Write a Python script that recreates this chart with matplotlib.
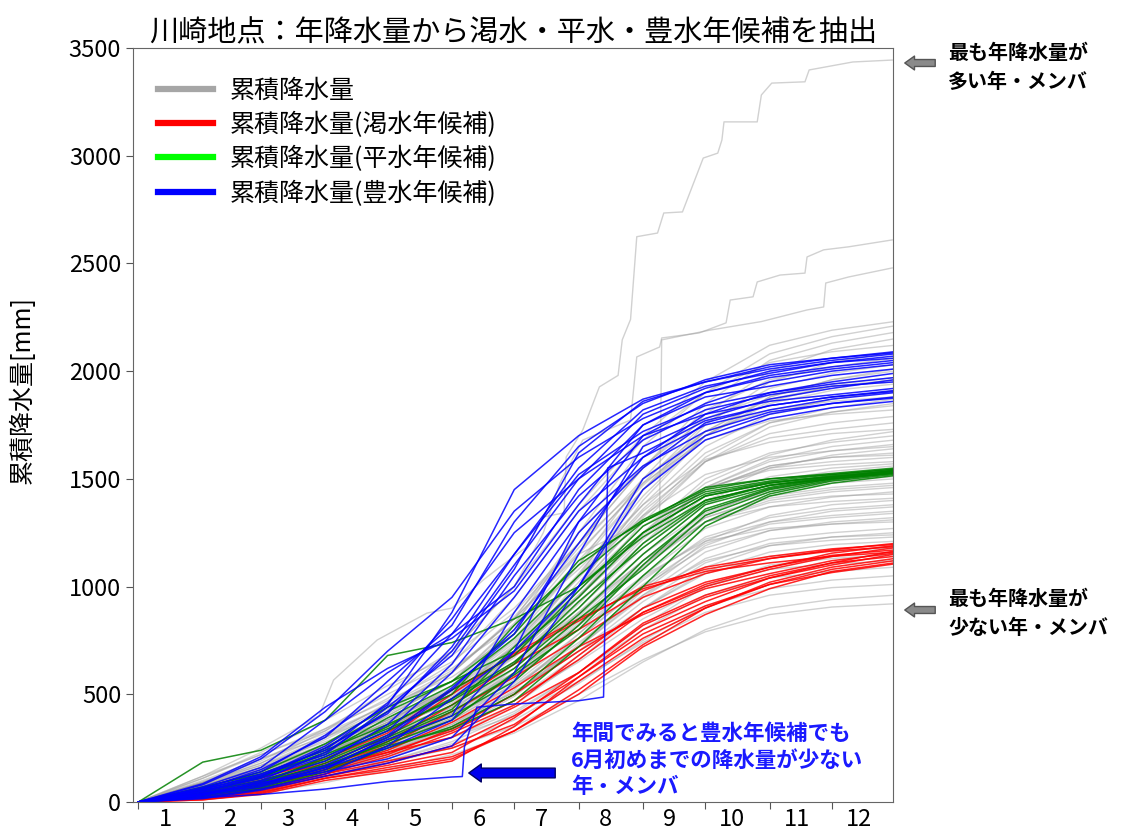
import matplotlib
matplotlib.use("Agg")
import matplotlib.pyplot as plt
from matplotlib.lines import Line2D
import numpy as np

plt.rcParams['font.family'] = ['Noto Sans CJK JP', 'DejaVu Sans']

# day-of-year (0-based) at the start of each month, plus the last day
month_days = [0, 31, 59, 90, 120, 151, 181, 212, 243, 273, 304, 334, 364]
month_labels = [str(m) for m in range(1, 13)]

# cumulative precipitation [mm] at each month boundary
gray_runs = [
    [0, 90, 180, 330, 520, 700, 1000, 1380, 1700, 1950, 2120, 2190, 2230],
    [0, 50, 120, 250, 400, 560, 820, 1250, 1650, 1900, 2080, 2160, 2210],
    [0, 110, 230, 380, 540, 680, 900, 1200, 1550, 1850, 2050, 2130, 2180],
    [0, 60, 140, 260, 380, 520, 760, 1100, 1500, 1800, 2000, 2100, 2150],
    [0, 75, 160, 300, 460, 640, 950, 1350, 1680, 1900, 2040, 2090, 2120],
    [0, 40, 100, 200, 330, 480, 700, 1050, 1450, 1750, 1950, 2040, 2090],
    [0, 95, 190, 340, 500, 650, 880, 1200, 1550, 1820, 1960, 2020, 2060],
    [0, 55, 130, 240, 370, 540, 800, 1150, 1480, 1760, 1920, 1990, 2030],
    [0, 30, 90, 190, 320, 450, 680, 1000, 1400, 1700, 1880, 1960, 2000],
    [0, 70, 150, 290, 430, 600, 850, 1250, 1560, 1780, 1890, 1940, 1970],
    [0, 100, 200, 320, 450, 580, 780, 1100, 1450, 1700, 1850, 1910, 1940],
    [0, 45, 110, 220, 350, 500, 720, 1050, 1380, 1650, 1800, 1870, 1910],
    [0, 65, 140, 270, 410, 560, 830, 1180, 1500, 1720, 1820, 1860, 1880],
    [0, 25, 70, 160, 280, 420, 640, 950, 1300, 1580, 1740, 1810, 1850],
    [0, 85, 170, 300, 440, 600, 860, 1200, 1480, 1680, 1770, 1800, 1820],
    [0, 50, 115, 230, 360, 500, 720, 1000, 1320, 1580, 1710, 1760, 1790],
    [0, 35, 95, 200, 330, 470, 700, 1020, 1350, 1580, 1690, 1730, 1760],
    [0, 120, 220, 340, 470, 620, 820, 1080, 1380, 1590, 1670, 1710, 1730],
    [0, 60, 125, 230, 350, 480, 680, 950, 1250, 1500, 1620, 1670, 1700],
    [0, 20, 60, 140, 260, 400, 620, 900, 1200, 1460, 1590, 1650, 1680],
    [0, 75, 150, 260, 380, 530, 750, 1050, 1330, 1520, 1600, 1630, 1650],
    [0, 40, 100, 190, 300, 440, 650, 920, 1220, 1450, 1560, 1600, 1620],
    [0, 55, 130, 250, 370, 500, 700, 980, 1250, 1450, 1550, 1580, 1600],
    [0, 90, 170, 280, 390, 520, 720, 1000, 1280, 1460, 1540, 1565, 1580],
    [0, 30, 80, 170, 280, 410, 600, 860, 1150, 1380, 1490, 1535, 1560],
    [0, 45, 105, 200, 310, 430, 620, 880, 1150, 1350, 1440, 1480, 1500],
    [0, 65, 130, 230, 340, 460, 640, 870, 1120, 1320, 1410, 1450, 1470],
    [0, 20, 55, 130, 230, 350, 520, 780, 1050, 1270, 1370, 1415, 1440],
    [0, 80, 160, 260, 360, 480, 650, 880, 1120, 1300, 1370, 1395, 1410],
    [0, 35, 85, 170, 270, 380, 550, 780, 1030, 1230, 1320, 1360, 1380],
    [0, 50, 110, 200, 300, 410, 580, 800, 1040, 1220, 1300, 1330, 1350],
    [0, 25, 65, 140, 240, 350, 500, 720, 960, 1160, 1260, 1300, 1320],
    [0, 70, 140, 240, 330, 440, 600, 820, 1050, 1210, 1270, 1290, 1300],
    [0, 40, 90, 170, 260, 360, 510, 720, 950, 1130, 1220, 1250, 1270],
    [0, 15, 45, 110, 200, 300, 450, 660, 900, 1090, 1190, 1230, 1250],
    [0, 55, 120, 210, 300, 400, 540, 740, 960, 1120, 1190, 1215, 1230],
    [0, 30, 75, 150, 240, 330, 470, 680, 900, 1070, 1160, 1195, 1210],
    [0, 60, 115, 190, 270, 370, 510, 700, 900, 1060, 1140, 1165, 1180],
    [0, 20, 50, 110, 190, 280, 410, 600, 820, 1000, 1100, 1130, 1150],
    [0, 45, 100, 170, 250, 340, 470, 650, 850, 1000, 1080, 1105, 1120],
    [0, 35, 80, 140, 210, 300, 420, 600, 800, 960, 1040, 1070, 1090],
    [0, 25, 60, 120, 190, 270, 380, 550, 750, 910, 990, 1030, 1050],
    [0, 40, 85, 150, 220, 300, 400, 560, 740, 880, 960, 995, 1010],
    [0, 15, 40, 90, 150, 220, 320, 470, 650, 800, 900, 940, 960],
    [0, 30, 65, 120, 180, 250, 350, 500, 660, 790, 870, 905, 920],
    [0, 50, 120, 210, 330, 470, 690, 1000, 1330, 1600, 1760, 1830, 1870],
    [0, 80, 150, 250, 350, 470, 650, 900, 1180, 1400, 1510, 1550, 1570],
    [0, 25, 75, 160, 260, 390, 560, 820, 1100, 1320, 1420, 1460, 1480],
    [0, 60, 125, 220, 340, 470, 670, 930, 1200, 1420, 1550, 1610, 1640],
    [0, 40, 95, 180, 290, 410, 590, 840, 1100, 1300, 1390, 1420, 1430],
    [0, 70, 140, 250, 370, 520, 740, 1040, 1360, 1620, 1760, 1810, 1840],
    [0, 30, 70, 150, 250, 360, 530, 760, 1010, 1200, 1290, 1320, 1340],
    [0, 55, 120, 220, 350, 500, 730, 1060, 1420, 1700, 1860, 1930, 1960],
    [0, 45, 100, 180, 270, 380, 540, 760, 1000, 1180, 1260, 1290, 1310],
    [0, 90, 180, 310, 450, 610, 850, 1160, 1470, 1720, 1870, 1930, 1950],
    [0, 20, 60, 130, 220, 330, 490, 720, 980, 1190, 1300, 1350, 1370],
    [0, 65, 135, 240, 360, 490, 690, 960, 1240, 1460, 1580, 1630, 1660],
    [0, 35, 85, 160, 250, 350, 500, 700, 930, 1110, 1200, 1230, 1240],
    [0, 75, 150, 270, 400, 560, 800, 1120, 1450, 1720, 1880, 1960, 2010],
    [0, 50, 110, 200, 300, 420, 600, 850, 1120, 1340, 1450, 1490, 1510],
    [0, 30, 80, 170, 280, 400, 580, 830, 1100, 1330, 1460, 1510, 1540],
    [0, 60, 130, 230, 350, 480, 680, 950, 1230, 1450, 1560, 1600, 1610],
    [0, 40, 90, 170, 270, 390, 570, 820, 1090, 1300, 1400, 1440, 1460],
    [0, 85, 160, 270, 380, 510, 700, 960, 1250, 1480, 1610, 1680, 1720],
    [0, 25, 70, 140, 230, 340, 500, 730, 990, 1210, 1330, 1380, 1400],
]

# the three wettest runs, traced in more detail (day, cumulative mm)
wettest_days = [0, 31, 59, 87, 94, 115, 139, 151, 166, 174, 187, 195, 205, 206, 214,
                222, 231, 233, 237, 240, 250, 253, 262, 272, 279, 281, 282, 298, 300,
                305, 321, 323, 344, 363]
wettest_mm = [0, 120, 250, 400, 566, 752, 877, 900, 1030, 1090, 1184, 1323, 1342, 1601,
              1727, 1927, 1980, 2145, 2240, 2624, 2641, 2734, 2739, 2989, 3012, 3073,
              3157, 3157, 3282, 3337, 3343, 3398, 3435, 3444]
second_days = [0, 31, 59, 90, 120, 151, 181, 195, 203, 214, 237, 240, 251, 252, 270,
               283, 285, 296, 298, 309, 321, 322, 330, 342, 363]
second_mm = [0, 110, 220, 330, 480, 700, 1000, 1250, 1481, 1680, 1773, 2066, 2112,
             2154, 2177, 2224, 2330, 2345, 2414, 2446, 2455, 2530, 2563, 2577, 2609]
third_days = [0, 31, 59, 90, 120, 151, 181, 212, 243, 251, 252, 275, 300, 322, 330,
              331, 342, 363]
third_mm = [0, 90, 200, 300, 420, 600, 850, 1150, 1300, 1342, 2145, 2190, 2230, 2284,
            2298, 2409, 2437, 2479]

dry_runs = [
    [0, 30, 70, 150, 230, 330, 470, 660, 880, 1000, 1080, 1140, 1180],
    [0, 15, 50, 120, 180, 260, 400, 580, 800, 930, 1040, 1100, 1150],
    [0, 40, 90, 170, 260, 420, 580, 760, 950, 1060, 1130, 1170, 1200],
    [0, 20, 60, 130, 190, 250, 360, 560, 760, 900, 1010, 1080, 1120],
    [0, 35, 80, 160, 280, 450, 640, 800, 980, 1090, 1140, 1175, 1195],
    [0, 10, 40, 110, 160, 210, 330, 500, 720, 870, 990, 1070, 1110],
    [0, 25, 70, 140, 220, 340, 500, 700, 880, 1010, 1090, 1145, 1170],
    [0, 45, 100, 180, 300, 500, 690, 850, 990, 1070, 1110, 1140, 1160],
    [0, 20, 55, 120, 170, 230, 390, 600, 830, 960, 1050, 1110, 1140],
    [0, 30, 60, 130, 210, 320, 450, 680, 900, 1020, 1090, 1155, 1190],
    [0, 15, 45, 110, 150, 200, 330, 520, 730, 900, 1020, 1090, 1130],
    [0, 50, 110, 200, 320, 520, 680, 840, 1000, 1080, 1130, 1165, 1185],
    [0, 25, 70, 150, 240, 370, 530, 720, 870, 990, 1060, 1120, 1155],
    [0, 35, 85, 160, 230, 300, 440, 600, 820, 950, 1040, 1110, 1165],
    [0, 10, 35, 100, 140, 190, 350, 580, 780, 910, 1010, 1065, 1105],
]

normal_runs = [
    [0, 185, 240, 380, 680, 740, 850, 1000, 1250, 1420, 1480, 1510, 1535],
    [0, 40, 90, 200, 330, 480, 650, 900, 1200, 1400, 1470, 1500, 1530],
    [0, 60, 120, 230, 390, 540, 760, 1050, 1300, 1440, 1490, 1520, 1545],
    [0, 30, 70, 160, 280, 400, 560, 820, 1120, 1350, 1450, 1500, 1525],
    [0, 50, 110, 250, 420, 560, 700, 950, 1250, 1420, 1480, 1515, 1540],
    [0, 20, 60, 140, 250, 350, 500, 760, 1050, 1300, 1430, 1490, 1520],
    [0, 70, 130, 240, 360, 500, 820, 1100, 1310, 1450, 1500, 1525, 1550],
    [0, 45, 100, 190, 310, 450, 620, 870, 1150, 1380, 1460, 1505, 1530],
    [0, 35, 85, 210, 350, 520, 680, 980, 1280, 1430, 1485, 1510, 1535],
    [0, 55, 95, 170, 270, 380, 600, 850, 1080, 1330, 1440, 1495, 1525],
    [0, 25, 80, 180, 300, 430, 720, 1000, 1230, 1400, 1470, 1505, 1540],
    [0, 65, 140, 270, 440, 560, 780, 1120, 1300, 1460, 1500, 1520, 1545],
    [0, 30, 65, 150, 260, 340, 470, 720, 1000, 1280, 1420, 1480, 1515],
    [0, 50, 115, 220, 340, 470, 640, 930, 1180, 1390, 1470, 1510, 1535],
    [0, 40, 75, 165, 290, 420, 590, 800, 1100, 1360, 1455, 1500, 1528],
]

wet_runs = [
    [0, 60, 150, 300, 560, 820, 1300, 1650, 1850, 1960, 2030, 2060, 2090],
    [0, 40, 100, 230, 420, 700, 1100, 1500, 1800, 1920, 2000, 2040, 2070],
    [0, 80, 200, 420, 700, 950, 1350, 1600, 1780, 1900, 1980, 2020, 2050],
    [0, 30, 80, 160, 250, 380, 700, 1300, 1700, 1850, 1950, 2000, 2030],
    [0, 50, 120, 260, 450, 880, 1450, 1700, 1870, 1950, 2010, 2050, 2080],
    [0, 25, 70, 150, 300, 520, 800, 1200, 1600, 1800, 1900, 1950, 1990],
    [0, 70, 160, 380, 600, 780, 1000, 1450, 1750, 1880, 1930, 1980, 2010],
    [0, 35, 90, 140, 200, 300, 600, 1150, 1650, 1780, 1870, 1920, 1960],
    [0, 55, 130, 240, 460, 780, 1150, 1550, 1820, 1930, 1990, 2040, 2060],
    [0, 20, 60, 130, 260, 480, 700, 1000, 1500, 1700, 1800, 1850, 1880],
    [0, 45, 110, 210, 330, 600, 950, 1350, 1600, 1750, 1820, 1870, 1900],
    [0, 65, 140, 310, 520, 850, 1250, 1500, 1700, 1800, 1860, 1890, 1920],
    [0, 30, 95, 190, 360, 640, 1050, 1420, 1680, 1820, 1890, 1930, 1950],
    [0, 85, 210, 440, 620, 760, 980, 1380, 1750, 1900, 1970, 2010, 2040],
    [0, 40, 85, 170, 310, 530, 780, 1250, 1550, 1760, 1840, 1880, 1910],
    [0, 50, 115, 250, 410, 720, 1150, 1520, 1720, 1840, 1900, 1940, 1970],
    [0, 15, 55, 120, 180, 260, 560, 1000, 1450, 1680, 1780, 1830, 1860],
    [0, 60, 125, 220, 440, 680, 1080, 1620, 1860, 1950, 2020, 2060, 2085],
    [0, 35, 75, 160, 290, 400, 880, 1300, 1560, 1720, 1810, 1850, 1875],
]

# wet run that stays dry until early June
late_wet_days = [0, 31, 59, 90, 120, 151, 156, 157, 163, 181, 212, 224, 226, 243, 273, 304, 334, 364]
late_wet_mm = [0, 20, 35, 60, 95, 116, 118, 255, 440, 455, 470, 487, 1550, 1620, 1770, 1840, 1880, 1905]

fig = plt.figure(figsize=(11.26, 8.36), dpi=100)
ax = fig.add_axes([0.1181, 0.0407, 0.6750, 0.9019])

line_gray = '#999999'
for run in gray_runs:
    ax.plot(month_days, run, color=line_gray, lw=1.0, alpha=0.45)
for d, v in [(wettest_days, wettest_mm), (second_days, second_mm), (third_days, third_mm)]:
    ax.plot(d, v, color=line_gray, lw=1.0, alpha=0.45)
for run in dry_runs:
    ax.plot(month_days, run, color='#ff0000', lw=1.1, alpha=0.85)
for run in normal_runs:
    ax.plot(month_days, run, color='#008000', lw=1.1, alpha=0.85)
for run in wet_runs:
    ax.plot(month_days, run, color='#0000ff', lw=1.1, alpha=0.85)
ax.plot(late_wet_days, late_wet_mm, color='#0000ff', lw=1.1, alpha=0.85)

ax.set_xlim(-2.6, 363.4)
ax.set_ylim(0, 3500)
ax.set_xticks(month_days[:12])
ax.set_xticklabels([])
ax.set_xticks([d + 13 for d in month_days[:12]], minor=True)
ax.set_xticklabels(month_labels, minor=True)
ax.tick_params(axis='x', which='minor', length=0, labelsize=17, pad=4)
ax.tick_params(axis='x', which='major', length=5, color='#555555')
ax.set_yticks(np.arange(0, 3501, 500))
ax.tick_params(axis='y', labelsize=17, length=5, color='#555555')
for s in ax.spines.values():
    s.set_color('#666666')

ax.set_ylabel('累積降水量[mm]', fontsize=18)
ax.yaxis.set_label_coords(-0.128, 0.546)
ax.set_title('川崎地点：年降水量から渇水・平水・豊水年候補を抽出', fontsize=21, pad=4)

handles = [Line2D([], [], color='#a6a6a6', lw=4.5),
           Line2D([], [], color='#ff0000', lw=4.5),
           Line2D([], [], color='#00ff00', lw=4.5),
           Line2D([], [], color='#0000ff', lw=4.5)]
labels = ['累積降水量', '累積降水量(渇水年候補)', '累積降水量(平水年候補)', '累積降水量(豊水年候補)']
ax.legend(handles, labels, loc='upper left', frameon=False, fontsize=18,
          handlelength=2.2, handletextpad=0.65, borderaxespad=0.0, borderpad=0.0,
          labelspacing=0.33, bbox_to_anchor=(0.033, 0.961))

# side notes with arrows
gray_arrow = dict(arrowstyle='simple,head_length=0.7,head_width=1.0,tail_width=0.5',
                  fc='#8a8a8a', ec='#555555', lw=1)
ax.annotate('', xy=(902, 773), xytext=(938, 773), xycoords='figure pixels',
            textcoords='figure pixels', arrowprops=gray_arrow)
ax.annotate('', xy=(902, 226), xytext=(938, 226), xycoords='figure pixels',
            textcoords='figure pixels', arrowprops=gray_arrow)
fig.text(948 / 1126, 1 - 42 / 836, '最も年降水量が\n多い年・メンバ', fontsize=14.4,
         fontweight='bold', va='top', ha='left', linespacing=1.45)
fig.text(948 / 1126, 1 - 588 / 836, '最も年降水量が\n少ない年・メンバ', fontsize=14.4,
         fontweight='bold', va='top', ha='left', linespacing=1.45)

blue_arrow = dict(arrowstyle='simple,head_length=0.9,head_width=1.3,tail_width=0.7',
                  fc='#0000ee', ec='#000066', lw=1)
ax.annotate('', xy=(466, 63), xytext=(558, 63), xycoords='figure pixels',
            textcoords='figure pixels', arrowprops=blue_arrow)
fig.text(571 / 1126, 1 - 723 / 836, '年間でみると豊水年候補でも\n6月初めまでの降水量が少ない\n年・メンバ',
         fontsize=15.5, fontweight='bold', color='#1a1aff', va='top', ha='left', linespacing=1.32)

fig.savefig('out.png', dpi=100)
